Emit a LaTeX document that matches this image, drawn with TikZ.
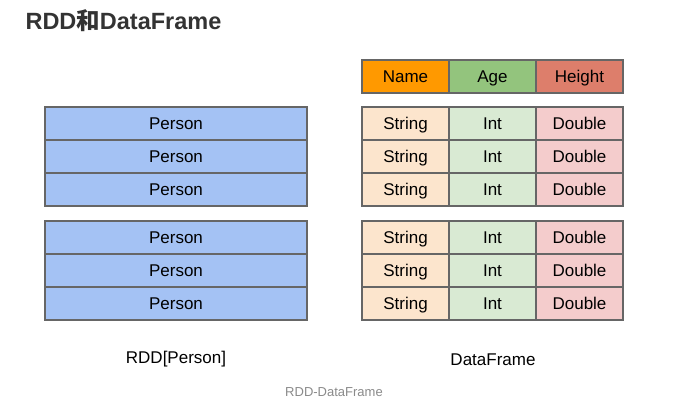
\documentclass[tikz,border=0pt]{standalone}
\usepackage{fontspec}
\setmainfont{Liberation Sans}
\setsansfont{Liberation Sans}
\newfontfamily\cjk{Noto Sans CJK SC}
\usetikzlibrary{positioning}
\definecolor{cellline}{HTML}{666666}
\definecolor{personblue}{HTML}{A4C2F4}
\definecolor{namehead}{HTML}{FF9900}
\definecolor{agehead}{HTML}{93C47D}
\definecolor{heighthead}{HTML}{DD7E6B}
\definecolor{strfill}{HTML}{FCE5CD}
\definecolor{intfill}{HTML}{D9EAD3}
\definecolor{dblfill}{HTML}{F4CCCC}
\definecolor{captiongray}{HTML}{8A8A8A}
\definecolor{titlegray}{HTML}{333333}
\tikzset{
  cell/.style={draw=cellline, line width=1.8pt, outer sep=0pt, inner sep=0pt,
    minimum height=33pt, text height=13pt, text depth=1pt,
    font=\sffamily\fontsize{17}{19}\selectfont},
  person/.style={cell, fill=personblue, minimum width=262pt},
  column/.style={cell, minimum width=87pt},
  strcell/.style={column, fill=strfill},
  intcell/.style={column, fill=intfill},
  dblcell/.style={column, fill=dblfill},
  tablelabel/.style={font=\sffamily\fontsize{17}{19}\selectfont},
}

\begin{document}
\begin{tikzpicture}[x=1pt, y=1pt]
        \useasboundingbox (0,0) rectangle (695,-401);

        % title
        \node[anchor=west, text=titlegray, font=\bfseries\fontsize{23.5}{26}\selectfont] (title) at (22,-21)
          {RDD{\cjk\bfseries 和}DataFrame};

        % header of the data frame
        \node[column, fill=namehead] (hname) at (405.5,-76.5) {Name};
        \node[column, fill=agehead, right=0pt of hname] (hage) {Age};
        \node[column, fill=heighthead, right=0pt of hage] (hheight) {Height};

        % rows
        \foreach \r/\y in {1/123.5, 2/156.5, 3/189.5, 4/237.5, 5/270.5, 6/303.5} {
          \node[person] (p\r) at (176,-\y) {Person};
          \node[strcell] (s\r) at (405.5,-\y) {String};
          \node[intcell, right=0pt of s\r] (i\r) {Int};
          \node[dblcell, right=0pt of i\r] (d\r) {Double};
        }

        % labels
        \node[tablelabel] (rddlabel) at (176,-359.5) {RDD[Person]};
        \node[tablelabel] (dflabel) at (493,-359.5) {DataFrame};
        \node[font=\sffamily\fontsize{13}{15}\selectfont, text=captiongray] (caption) at (334,-392) {RDD-DataFrame};

      \end{tikzpicture}
\end{document}
